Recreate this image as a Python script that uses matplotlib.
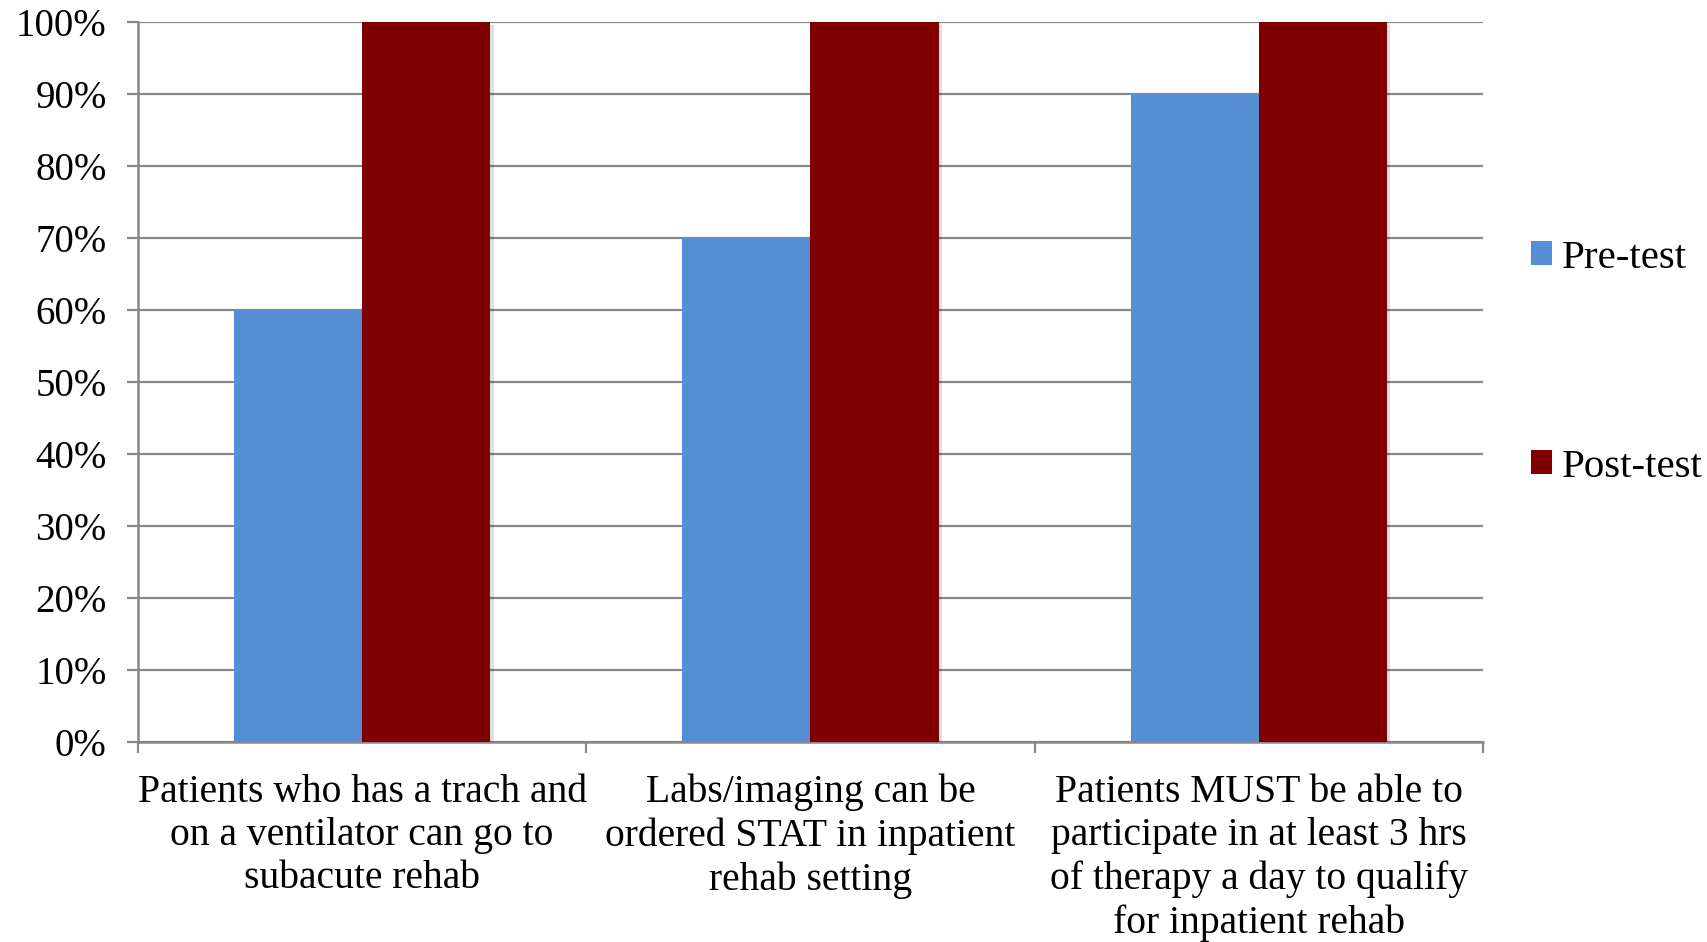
import matplotlib
matplotlib.use("Agg")
import matplotlib.pyplot as plt
import matplotlib.patheffects as pe
from matplotlib.patches import Patch
from matplotlib.ticker import FuncFormatter, FixedLocator
import numpy as np

categories = [
    "Patients who has a trach and\non a ventilator can go to\nsubacute rehab",
    "Labs/imaging can be\nordered STAT in inpatient\nrehab setting",
    "Patients MUST be able to\nparticipate in at least 3 hrs\nof therapy a day to qualify\nfor inpatient rehab",
]
series_names = ["Pre-test", "Post-test"]
pre_test = [0.60, 0.70, 0.90]
post_test = [1.00, 1.00, 1.00]
y_ticks = [0.0, 0.1, 0.2, 0.3, 0.4, 0.5, 0.6, 0.7, 0.8, 0.9, 1.0]

colors = ["#558ED5", "#800000"]
grid_color = "#888888"

plt.rcParams["font.family"] = ["Liberation Serif", "DejaVu Serif"]

fig = plt.figure(figsize=(17.07, 9.42), dpi=100)
ax = fig.add_axes([0.0808, 0.2118, 0.8688 - 0.0808, 0.977 - 0.2118])

x = np.arange(len(categories))
width = 1 / 3.5
shadow = [pe.SimplePatchShadow(offset=(2.5, -2.5), shadow_rgbFace="#000000", alpha=0.12), pe.Normal()]

for i, (vals, col) in enumerate(zip([pre_test, post_test], colors)):
    offs = (i - 0.5) * width
    ax.bar(x + offs, vals, width=width, color=col, zorder=3 + i,
           label=series_names[i], path_effects=shadow, linewidth=0)

ax.set_xlim(-0.5, len(categories) - 0.5)
ax.set_ylim(0, 1)
ax.yaxis.set_major_locator(FixedLocator(y_ticks))
ax.yaxis.set_major_formatter(FuncFormatter(lambda v, p: f"{round(v * 100)}%"))
ax.grid(axis="y", color=grid_color, linewidth=1.6, zorder=1)
ax.set_axisbelow(True)

for side in ["top", "right"]:
    ax.spines[side].set_visible(False)
for side in ["left", "bottom"]:
    ax.spines[side].set_color(grid_color)
    ax.spines[side].set_linewidth(1.8)

ax.tick_params(axis="y", length=8, width=1.6, color=grid_color, pad=14.5,
               labelsize=28, labelcolor="black")
ax.set_xticks(x)
ax.set_xticklabels(categories, fontsize=28.5, linespacing=1.22)
ax.tick_params(axis="x", which="major", length=0, pad=22.5)
ax.set_xticks(np.arange(len(categories) + 1) - 0.5, minor=True)
ax.tick_params(axis="x", which="minor", length=8, width=1.6, color=grid_color)

handles = [Patch(facecolor=c, edgecolor="none") for c in colors]
fig.legend(handles, series_names, loc="center left", bbox_to_anchor=(0.897, 0.615),
           frameon=False, fontsize=29.5, handlelength=0.5, handleheight=0.5,
           handletextpad=0.25, labelspacing=4.2, borderpad=0, borderaxespad=0)

fig.savefig("out.png", dpi=100, facecolor="white")
